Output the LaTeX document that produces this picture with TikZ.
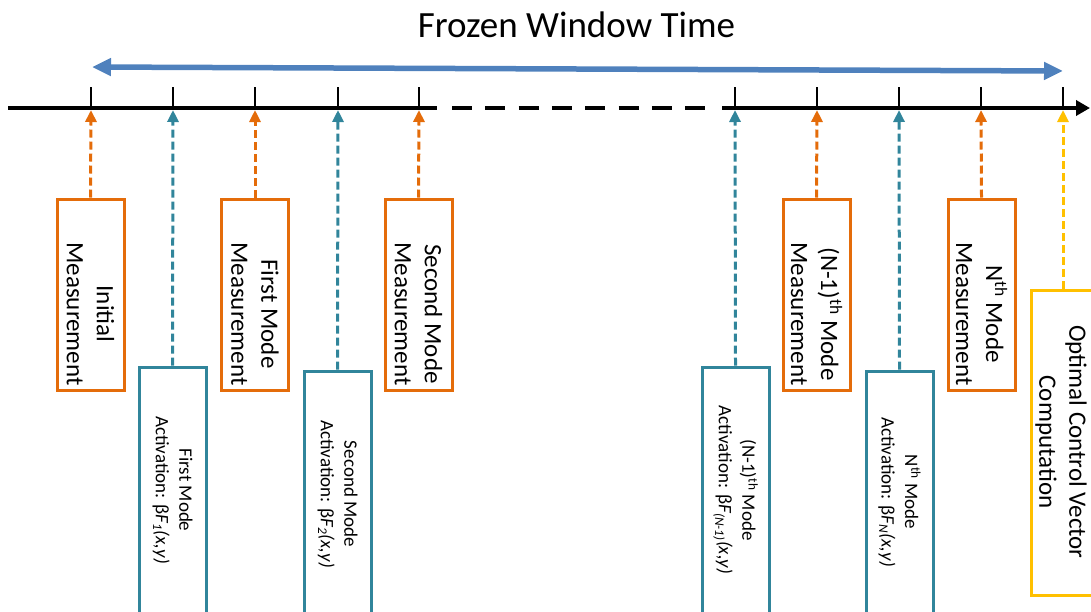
\documentclass[tikz,border=0pt]{standalone}
\usepackage{fontspec}
\setmainfont{Carlito}
\usetikzlibrary{arrows.meta}

\definecolor{measorange}{RGB}{228,108,10}
\definecolor{actteal}{RGB}{49,133,155}
\definecolor{ctrlyellow}{RGB}{255,192,0}
\definecolor{spanblue}{RGB}{79,129,189}

\tikzset{
  axisline/.style={line width=4.2pt, black},
  tickline/.style={line width=2.8pt, black},
  span/.style={line width=5.5pt, spanblue,
    {Triangle[length=19pt,width=17pt]}-{Triangle[length=19pt,width=17pt]}},
  link/.style={line width=3pt, dash pattern=on 8pt off 4pt,
    -{Triangle[length=12pt,width=11pt]}},
  box/.style={draw, line width=3pt, fill=white, minimum width=67pt, inner sep=0pt},
  measbox/.style={box, draw=measorange, minimum height=191pt},
  actbox/.style={box, draw=actteal, minimum height=246pt},
  ctrlbox/.style={box, draw=ctrlyellow, minimum width=64pt, minimum height=305pt},
  bigtext/.style={rotate=-90, align=center, inner sep=0pt,
    font=\fontsize{25}{30}\selectfont},
  smalltext/.style={rotate=-90, align=center, inner sep=0pt,
    font=\fontsize{19}{23.5}\selectfont},
}

\begin{document}
\begin{tikzpicture}[x=1pt,y=-1pt]
\useasboundingbox (0,0) rectangle (1091,611);
\begin{scope}
\clip (0,0) rectangle (1091,611);

% title
\node[anchor=base, font=\fontsize{37}{44}\selectfont] (title) at (576.5,37) {Frozen Window Time};

% span of the frozen window
\coordinate (spanL) at (92,67);
\coordinate (spanR) at (1063,71);
\draw[span] (spanL) -- (spanR);

% time axis
\coordinate (ax0) at (8,108);
\coordinate (ax1) at (437,108);
\coordinate (ax2) at (452,108);
\coordinate (ax3) at (705,108);
\coordinate (ax4) at (722,108);
\coordinate (ax5) at (1090,108);
\draw[axisline] (ax0) -- (ax1);
\draw[axisline, dash pattern=on 20pt off 13.3pt] (ax2) -- (ax3);
\draw[axisline, -{Triangle[length=14pt,width=15pt]}] (ax4) -- (ax5);

% tick marks
\foreach \n/\x in {1/91,2/173,3/255,4/338,5/419,6/735,7/817,8/899,9/981,10/1063}{
  \coordinate (t\n) at (\x,108);
  \draw[tickline] (t\n) -- ++(0,-21);
}

% measurement boxes
\node[measbox] (m0) at (90.5,294.5) {};
\node[measbox] (m1) at (255,294.5) {};
\node[measbox] (m2) at (418.5,294.5) {};
\node[measbox] (mN1) at (816.5,294.5) {};
\node[measbox] (mN) at (981.5,294.5) {};

\node[bigtext] (m0t) at (90.5,314) {Initial\\Measurement};
\node[bigtext] (m1t) at (255,314) {First Mode\\Measurement};
\node[bigtext] (m2t) at (418.5,314) {Second Mode\\Measurement};
\node[bigtext] (mN1t) at (816.5,314) {(N-1)\textsuperscript{th} Mode\\Measurement};
\node[bigtext] (mNt) at (981.5,314) {N\textsuperscript{th} Mode\\Measurement};

% mode activation boxes
\node[actbox] (a1) at (172.5,490) {};
\node[actbox] (a2) at (337.5,494) {};
\node[actbox] (aN1) at (735.5,490) {};
\node[actbox] (aN) at (899.5,494) {};

\node[smalltext] (a1t) at (172.5,490) {First Mode\\Activation: β\textit{F}\textsubscript{\textit{1}}\textit{(x,y)}};
\node[smalltext] (a2t) at (337.5,494) {Second Mode\\Activation: β\textit{F}\textsubscript{\textit{2}}\textit{(x,y)}};
\node[smalltext] (aN1t) at (735.5,490) {(N-1)\textsuperscript{th} Mode\\Activation: β\textit{F}\textsubscript{\textit{(N-1)}}\textit{(x,y)}};
\node[smalltext] (aNt) at (899.5,492) {N\textsuperscript{th} Mode\\Activation: β\textit{F}\textsubscript{\textit{N}}\textit{(x,y)}};

% control computation box
\node[ctrlbox] (oc) at (1063,442.5) {};
\node[bigtext] (oct) at (1061,442) {Optimal Control Vector\\Computation};

% connectors to the time axis
\draw[link, measorange] (m0.north) -- ([yshift=-2pt]t1);
\draw[link, actteal] (a1.north) -- ([yshift=-2pt]t2);
\draw[link, measorange] (m1.north) -- ([yshift=-2pt]t3);
\draw[link, actteal] (a2.north) -- ([yshift=-2pt]t4);
\draw[link, measorange] (m2.north) -- ([yshift=-2pt]t5);
\draw[link, actteal] (aN1.north) -- ([yshift=-2pt]t6);
\draw[link, measorange] (mN1.north) -- ([yshift=-2pt]t7);
\draw[link, actteal] (aN.north) -- ([yshift=-2pt]t8);
\draw[link, measorange] (mN.north) -- ([yshift=-2pt]t9);
\draw[link, ctrlyellow] (oc.north) -- ([yshift=-2pt]t10);
\end{scope}
\end{tikzpicture}
\end{document}
